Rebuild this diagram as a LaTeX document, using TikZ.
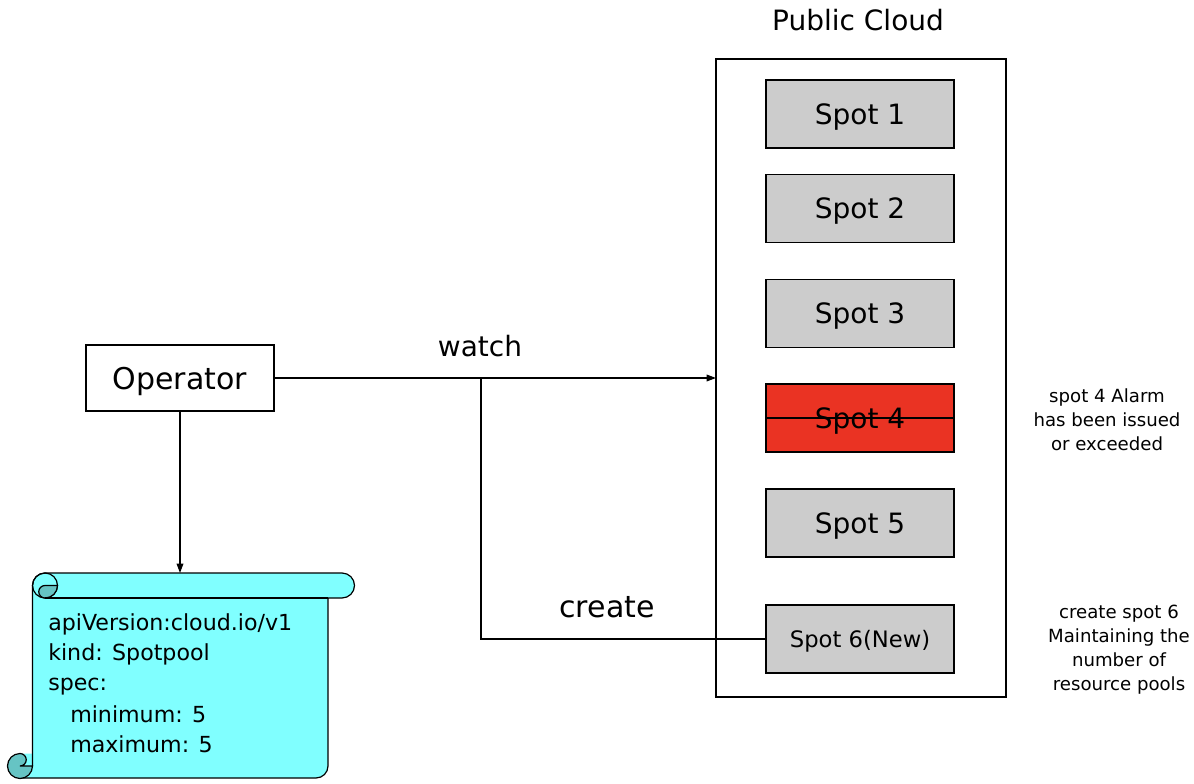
\documentclass[tikz,border=0pt]{standalone}
\usepackage{fontspec}
\setmainfont{DejaVu Sans}
\usetikzlibrary{arrows.meta}
\definecolor{spotgray}{HTML}{CCCCCC}
\definecolor{alarmred}{HTML}{EA3323}
\definecolor{scrollcyan}{HTML}{80FFFF}
\definecolor{rollcyan}{HTML}{66C4C4}
\tikzset{
  box/.style={draw, line width=0.9pt, inner sep=0pt, outer sep=0pt, text depth=0pt},
  spotbox/.style={box, fill=spotgray, minimum width=141pt, minimum height=51pt, font=\fontsize{21}{25}\selectfont},
  bigtext/.style={inner sep=0pt, font=\fontsize{21}{25}\selectfont},
  note/.style={inner sep=0pt, align=center, font=\fontsize{13.6}{18}\selectfont},
  yaml/.style={inner sep=0pt, anchor=base west, font=\fontsize{16.6}{20}\selectfont},
  conn/.style={line width=0.9pt},
  arr/.style={conn, -{Triangle[length=7pt,width=5pt]}},
  outline/.style={line width=0.9pt}
}
\begin{document}
\begin{tikzpicture}[x=0.75pt,y=-0.75pt]
\useasboundingbox (0,0) rectangle (1194,784);

% cloud container
\node[box, minimum width=217.5pt, minimum height=478.5pt] (cloud) at (861,378) {};
\node[bigtext, anchor=base] (cloudlbl) at (858,31) {Public Cloud};

% spots
\node[spotbox] (spot1) at (860,114) {Spot 1};
\node[spotbox] (spot2) at (860,208.5) {Spot 2};
\node[spotbox] (spot3) at (860,313.5) {Spot 3};
\node[spotbox, fill=alarmred] (spot4) at (860,418) {Spot 4};
\draw[conn] (spot4.west) -- (spot4.east);
\node[spotbox] (spot5) at (860,523) {Spot 5};
\node[spotbox, font=\fontsize{17}{20}\selectfont] (spot6) at (860,639) {Spot 6(New)};

% notes
\node[note] (note4) at (1107,420) {spot 4 Alarm\\has been issued\\or exceeded};
\node[note] (note6) at (1119,650) {create spot 6\\Maintaining the\\number of\\resource pools};

% operator
\node[box, minimum width=141pt, minimum height=49.5pt, font=\fontsize{22.5}{26}\selectfont] (op) at (180,378) {Operator};

% scroll body fill
\fill[scrollcyan]
  (45,573) -- (342,573) arc[start angle=270, end angle=450, radius=12.5]
  -- (328,598) -- (328,766) arc[start angle=0, end angle=90, radius=12]
  -- (20,778) -- (20,753.5) -- (32.5,753.5) -- (32.5,585.5)
  arc[start angle=180, end angle=270, radius=12.5] -- cycle;
% scroll outline
\draw[outline]
  (32.5,766) -- (32.5,585.5) arc[start angle=180, end angle=270, radius=12.5]
  -- (342,573) arc[start angle=270, end angle=450, radius=12.5]
  -- (328,598) -- (328,766) arc[start angle=0, end angle=90, radius=12]
  -- (20,778);
% top-left roll
\draw[outline] (45,585.5) circle[radius=12.5];
\draw[outline, fill=rollcyan]
  (45,585.5) -- (57.5,585.5) arc[start angle=0, end angle=90, radius=12.5]
  arc[start angle=90, end angle=270, radius=6.25] -- cycle;
\draw[outline] (45,598) -- (328,598);
% bottom-left roll
\draw[outline, fill=rollcyan]
  (32.5,766) arc[start angle=0, end angle=270, radius=12.5]
  arc[start angle=270, end angle=450, radius=6.25] -- cycle;

\node[yaml] (y1) at (48,630) {apiVersion:cloud.io/v1};
\node[yaml] (y2) at (48,660) {kind: Spotpool};
\node[yaml] (y3) at (48,690) {spec:};
\node[yaml] (y4) at (70,722) {minimum: 5};
\node[yaml] (y5) at (70,752) {maximum: 5};

\coordinate (scrolltop) at (180,573);
\coordinate (branch) at (481,378);

% connectors
\draw[arr] (op.east) -- (cloud.west);
\node[bigtext, anchor=base] (watchlbl) at (480,356) {watch};
\draw[conn] (branch) |- (spot6.west);
\node[bigtext, anchor=base, font=\fontsize{22.5}{26}\selectfont] (createlbl) at (607,617) {create};
\draw[arr] (op.south) -- (scrolltop);
\end{tikzpicture}
\end{document}
